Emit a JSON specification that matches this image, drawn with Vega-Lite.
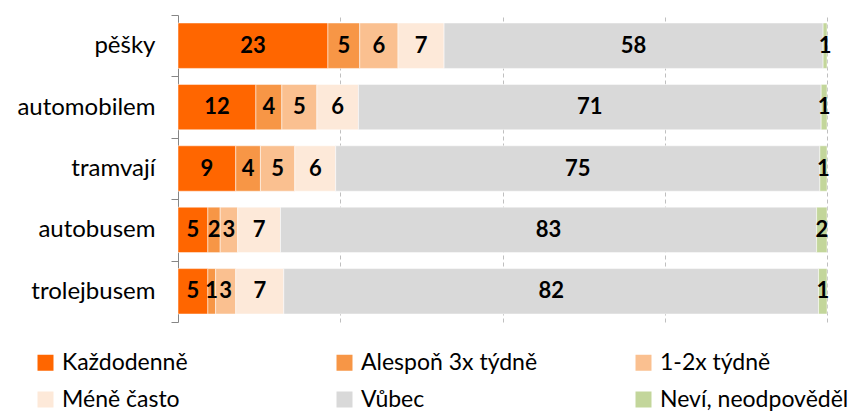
{
  "$schema": "https://vega.github.io/schema/vega-lite/v6.json",
  "width": 649,
  "height": 307,
  "autosize": {"type": "none"},
  "padding": {"left": 178, "top": 15, "right": 40, "bottom": 89},
  "background": "white",
  "config": {"view": {"stroke": null}, "font": "Lato"},
  "data": {"values": [
    {"cat": "pěšky", "series": "Každodenně", "ord": 1, "v": 23.1},
    {"cat": "pěšky", "series": "Alespoň 3x týdně", "ord": 2, "v": 4.9},
    {"cat": "pěšky", "series": "1-2x týdně", "ord": 3, "v": 5.9},
    {"cat": "pěšky", "series": "Méně často", "ord": 4, "v": 7.1},
    {"cat": "pěšky", "series": "Vůbec", "ord": 5, "v": 58.4},
    {"cat": "pěšky", "series": "Neví, neodpověděl", "ord": 6, "v": 0.6},
    {"cat": "automobilem", "series": "Každodenně", "ord": 1, "v": 12.0},
    {"cat": "automobilem", "series": "Alespoň 3x týdně", "ord": 2, "v": 4.0},
    {"cat": "automobilem", "series": "1-2x týdně", "ord": 3, "v": 5.4},
    {"cat": "automobilem", "series": "Méně často", "ord": 4, "v": 6.4},
    {"cat": "automobilem", "series": "Vůbec", "ord": 5, "v": 71.3},
    {"cat": "automobilem", "series": "Neví, neodpověděl", "ord": 6, "v": 0.9},
    {"cat": "tramvají", "series": "Každodenně", "ord": 1, "v": 8.9},
    {"cat": "tramvají", "series": "Alespoň 3x týdně", "ord": 2, "v": 3.8},
    {"cat": "tramvají", "series": "1-2x týdně", "ord": 3, "v": 5.3},
    {"cat": "tramvají", "series": "Méně často", "ord": 4, "v": 6.3},
    {"cat": "tramvají", "series": "Vůbec", "ord": 5, "v": 74.6},
    {"cat": "tramvají", "series": "Neví, neodpověděl", "ord": 6, "v": 1.1},
    {"cat": "autobusem", "series": "Každodenně", "ord": 1, "v": 4.6},
    {"cat": "autobusem", "series": "Alespoň 3x týdně", "ord": 2, "v": 1.9},
    {"cat": "autobusem", "series": "1-2x týdně", "ord": 3, "v": 2.7},
    {"cat": "autobusem", "series": "Méně často", "ord": 4, "v": 6.6},
    {"cat": "autobusem", "series": "Vůbec", "ord": 5, "v": 82.6},
    {"cat": "autobusem", "series": "Neví, neodpověděl", "ord": 6, "v": 1.6},
    {"cat": "trolejbusem", "series": "Každodenně", "ord": 1, "v": 4.6},
    {"cat": "trolejbusem", "series": "Alespoň 3x týdně", "ord": 2, "v": 1.2},
    {"cat": "trolejbusem", "series": "1-2x týdně", "ord": 3, "v": 3.1},
    {"cat": "trolejbusem", "series": "Méně často", "ord": 4, "v": 7.4},
    {"cat": "trolejbusem", "series": "Vůbec", "ord": 5, "v": 82.4},
    {"cat": "trolejbusem", "series": "Neví, neodpověděl", "ord": 6, "v": 1.3}
  ]},
  "transform": [
    {"stack": "v", "groupby": ["cat"], "sort": [{"field": "ord", "order": "ascending"}], "as": ["v0", "v1"]},
    {"calculate": "(datum.v0 + datum.v1) / 2", "as": "mid"}
  ],
  "encoding": {
    "y": {
      "field": "cat", "type": "nominal",
      "sort": ["pěšky", "automobilem", "tramvají", "autobusem", "trolejbusem"],
      "scale": {"paddingInner": 0, "paddingOuter": 0},
      "axis": {
        "title": null, "domainColor": "#868686", "tickColor": "#868686", "tickSize": 7,
        "tickBand": "extent", "labelFont": "Lato", "labelFontSize": 24, "labelColor": "black",
        "labelPadding": 16, "grid": false, "domainWidth": 1
      }
    }
  },
  "layer": [
    {
      "mark": {"type": "bar", "height": {"band": 0.74}, "stroke": "white", "strokeWidth": 0.5},
      "encoding": {
        "x": {
          "field": "v0", "type": "quantitative", "scale": {"domain": [0, 100], "nice": false},
          "axis": {"title": null, "labels": false, "ticks": false, "domain": false, "grid": true,
                   "gridDash": [4, 3], "gridColor": "#BFBFBF", "values": [25, 50, 75, 100]}
        },
        "x2": {"field": "v1"},
        "color": {
          "field": "series", "type": "nominal",
          "sort": ["Každodenně", "Alespoň 3x týdně", "1-2x týdně", "Méně často", "Vůbec", "Neví, neodpověděl"],
          "scale": {
            "domain": ["Každodenně", "Alespoň 3x týdně", "1-2x týdně", "Méně často", "Vůbec", "Neví, neodpověděl"],
            "range": ["#FF6600", "#F79646", "#FAC090", "#FDE9D9", "#D9D9D9", "#C3D69B"]
          },
          "legend": {
            "orient": "none", "legendX": -144, "legendY": 336, "columns": 3, "direction": "horizontal",
            "title": null, "symbolType": "square", "symbolSize": 256, "symbolStrokeWidth": 0,
            "labelFont": "Lato", "labelFontSize": 23, "labelColor": "black", "labelOffset": 5,
            "columnPadding": 82, "rowPadding": 13, "gridAlign": "all", "labelLimit": 400
          }
        }
      }
    },
    {
      "mark": {"type": "text", "font": "Lato", "fontWeight": "bold", "fontSize": 22, "color": "black"},
      "encoding": {
        "x": {"field": "mid", "type": "quantitative"},
        "text": {"field": "v", "type": "quantitative", "format": ".0f"}
      }
    }
  ]
}
